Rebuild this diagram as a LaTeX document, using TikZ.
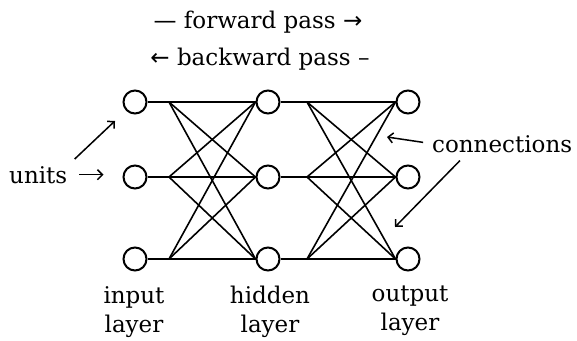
\documentclass[tikz,border=0pt]{standalone}
\usepackage{fontspec}
\setmainfont{DejaVu Serif}
\newfontfamily\arrfont{DejaVu Sans}
\usetikzlibrary{arrows.meta,positioning,calc}
\definecolor{ink}{HTML}{000000}
\tikzset{
  every node/.style={font=\fontsize{23}{29}\selectfont, text=ink},
  unit/.style={circle, draw=ink, line width=2pt, minimum size=23pt, inner sep=0pt},
  wire/.style={line width=1.6pt, draw=ink},
  lbl/.style={inner sep=0pt, align=center},
  ptr/.style={-{Straight Barb[length=5pt,width=10pt]}, line width=1.5pt, draw=ink},
}
\begin{document}
\begin{tikzpicture}[x=1pt,y=-1pt]
\useasboundingbox (0,0) rectangle (577,340);

% ============ units ==========================================================
\foreach \c/\x in {i/135,h/268,o/408}{
  \foreach \r/\y in {1/102,2/177,3/259}{
    \node[unit] (\c\r) at (\x,\y) {};
  }
}
% fan-out points right of each sending unit
\foreach \c/\x in {i/169,h/307}{
  \foreach \r/\y in {1/102,2/177,3/259}{\coordinate (\c f\r) at (\x,\y);}
}

% ============ connections ====================================================
\foreach \a/\b in {i/h,h/o}{
  \foreach \r in {1,2,3}{
    \draw[wire] (\a\r) -- (\b\r);
    \foreach \s in {1,2,3}{
      \ifnum\r=\s\else\draw[wire] (\a f\r) -- (\b\s.west);\fi
    }
  }
}

% ============ labels =========================================================
\node[lbl, anchor=base] (fwd) at (258,28) {{\arrfont —} forward pass {\arrfont →}};
\node[lbl, anchor=base] (bwd) at (260,65) {{\arrfont ←} backward pass –};
\node[lbl, anchor=base west] (units) at (9,183) {units};
\node[lbl, anchor=base west] (conn) at (432,152) {connections};
\node[lbl, anchor=north] (li) at (134,286) {input\\layer};
\node[lbl, anchor=north] (lh) at (270,286) {hidden\\layer};
\node[lbl, anchor=north] (lo) at (410,286) {output\\layer};

% pointers
\coordinate (cx1) at (387,137);
\coordinate (cx2) at (395,227);
\draw[ptr, shorten <=12pt, shorten >=19pt] (units.east) -- (units.east -| i2.west);
\draw[ptr, shorten <=10pt, shorten >=15pt] (units.north east) -- (i1);
\draw[ptr, shorten <=9pt] (conn.west) -- (cx1);
\draw[ptr] ([xshift=28pt,yshift=-8pt]conn.south west) -- (cx2);

\end{tikzpicture}
\end{document}
